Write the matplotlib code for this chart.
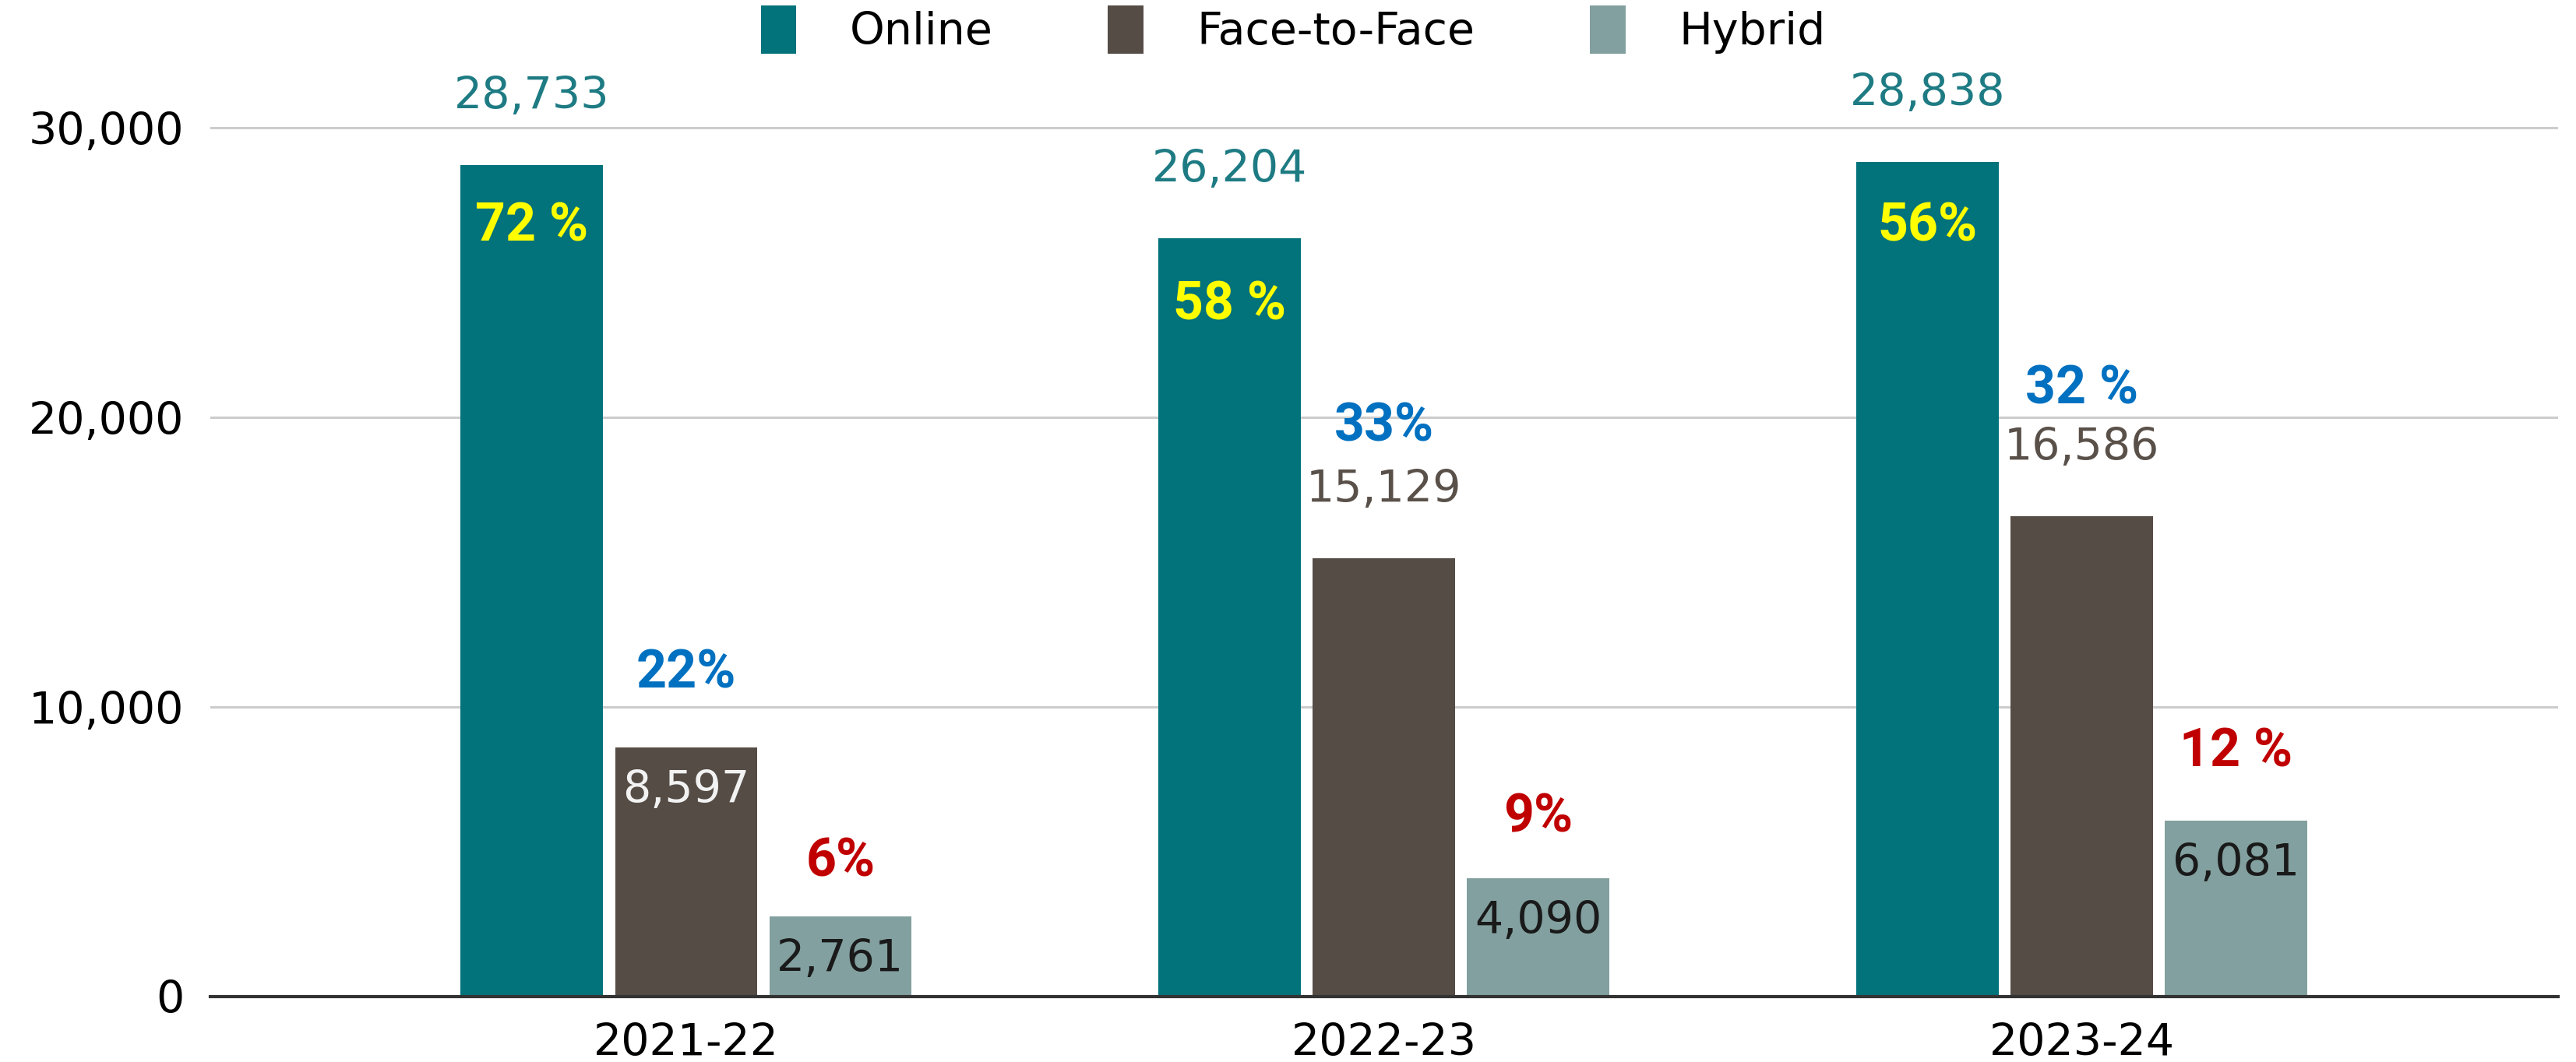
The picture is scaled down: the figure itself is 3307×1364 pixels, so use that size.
import numpy as np
import matplotlib.pyplot as plt

years = ["2021-22", "2022-23", "2023-24"]
series = ["Online", "Face-to-Face", "Hybrid"]
online = [28733, 26204, 28838]
face = [8597, 15129, 16586]
hybrid = [2761, 4090, 6081]

pct_online = ["72 %", "58 %", "56%"]
pct_face = ["22%", "33%", "32 %"]
pct_hybrid = ["6%", "9%", "12 %"]

# where the hand-placed percentage labels sit (data units)
pct_online_y = [26590, 23870, 26590]
pct_face_y = [11160, 19680, 20970]
pct_hybrid_y = [4650, 6180, 8440]

colors = ["#02727B", "#554C45", "#82A09F"]
label_colors = [["#1E7B83"] * 3,
                ["#F2F2F2", "#595049", "#595049"],
                ["#1A1A1A"] * 3]
inside = [[False] * 3, [True, False, False], [True] * 3]
pct_colors = ["#FFFF00", "#0070C0", "#C00000"]

FONT = "DejaVu Sans"
FS = 41

fig = plt.figure(figsize=(33.07, 13.64), dpi=100)
ax = fig.add_axes([0.0816, 0.0616, 0.9114, 0.8724])

x = np.arange(len(years))
step = 0.221
width = 0.204
data = [online, face, hybrid]
pcts = [pct_online, pct_face, pct_hybrid]
pct_ys = [pct_online_y, pct_face_y, pct_hybrid_y]

handles = []
for i, vals in enumerate(data):
    pos = x + (i - 1) * step
    b = ax.bar(pos, vals, width, color=colors[i], label=series[i], zorder=3)
    handles.append(b)
    for j, v in enumerate(vals):
        if inside[i][j]:
            ax.annotate(f"{v:,}", (pos[j], v), xytext=(0, -40), textcoords="offset points",
                        ha="center", va="center", fontsize=FS, color=label_colors[i][j],
                        family=FONT, zorder=4)
        else:
            ax.annotate(f"{v:,}", (pos[j], v), xytext=(0, 63), textcoords="offset points",
                        ha="center", va="center", fontsize=FS, color=label_colors[i][j],
                        family=FONT, zorder=4)
        ax.text(pos[j], pct_ys[i][j], pcts[i][j], ha="center", va="center",
                fontsize=49, fontweight="bold", color=pct_colors[i],
                family=["Liberation Sans Narrow", "Roboto"], zorder=5)

ax.set_xlim(-0.682, 2.682)
ax.set_ylim(0, 32000)
ax.set_yticks([0, 10000, 20000, 30000])
ax.set_yticklabels(["0", "10,000", "20,000", "30,000"], family=FONT, fontsize=FS)
ax.set_xticks(x)
ax.set_xticklabels(years, family=FONT, fontsize=FS)
ax.tick_params(axis="y", length=0, pad=24)
ax.tick_params(axis="x", length=0, pad=24)
ax.grid(axis="y", color="#CCCCCC", linewidth=2.2, zorder=0)
for s in ["top", "right", "left"]:
    ax.spines[s].set_visible(False)
ax.spines["bottom"].set_color("#333333")
ax.spines["bottom"].set_linewidth(3)
ax.spines["bottom"].set_zorder(4)

fig.legend(handles=handles, labels=series, loc="center", bbox_to_anchor=(0.502, 0.972),
           ncol=3, frameon=False, prop={"family": FONT, "size": FS},
           handlelength=0.8, handleheight=1.3, columnspacing=2.6, handletextpad=1.2)

fig.savefig("out.png", dpi=100)
